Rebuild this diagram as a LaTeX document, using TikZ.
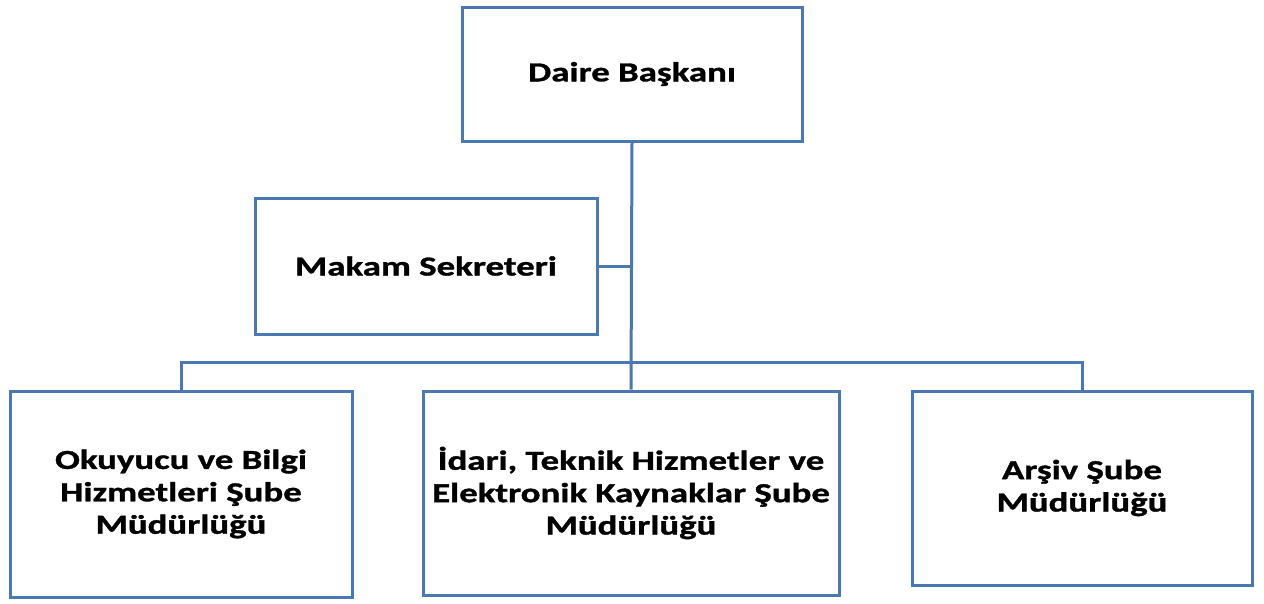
\documentclass[tikz,border=0pt]{standalone}
\usepackage{fontspec}
\setmainfont{Carlito}[FakeStretch=1.34,BoldFeatures={FakeBold=1.2}]
\definecolor{boxblue}{RGB}{74,120,176}
\tikzset{
  orgbox/.style={draw=boxblue, line width=3pt, fill=white, rectangle, inner sep=0pt,
    align=center, font=\fontsize{27.5}{32.4}\selectfont\bfseries, text=black},
  conn/.style={draw=boxblue, line width=3pt}
}
\begin{document}
\begin{tikzpicture}[x=1pt,y=-1pt]
\useasboundingbox (0,0) rectangle (1264,603);
\node[orgbox, minimum width=340pt, minimum height=134pt] (d) at (632,74) {Daire Başkanı};
\node[orgbox, minimum width=342pt, minimum height=136pt] (s) at (426,266) {Makam Sekreteri};
\node[orgbox, minimum width=342pt, minimum height=206pt] (l) at (181,494) {Okuyucu ve Bilgi\\Hizmetleri Şube\\Müdürlüğü};
\node[orgbox, minimum width=416pt, minimum height=204pt] (m) at (631,493) {İdari, Teknik Hizmetler ve\\Elektronik Kaynaklar Şube\\Müdürlüğü};
\node[orgbox, minimum width=340pt, minimum height=194pt] (r) at (1082,488) {Arşiv Şube\\Müdürlüğü};
\coordinate (bar) at (631,362);
\draw[conn] (d.south) -- (m.north);
\draw[conn] (s.east) -- (s.east -| m.north);
\draw[conn] (l.north) |- (bar) -| (r.north);
\end{tikzpicture}
\end{document}
